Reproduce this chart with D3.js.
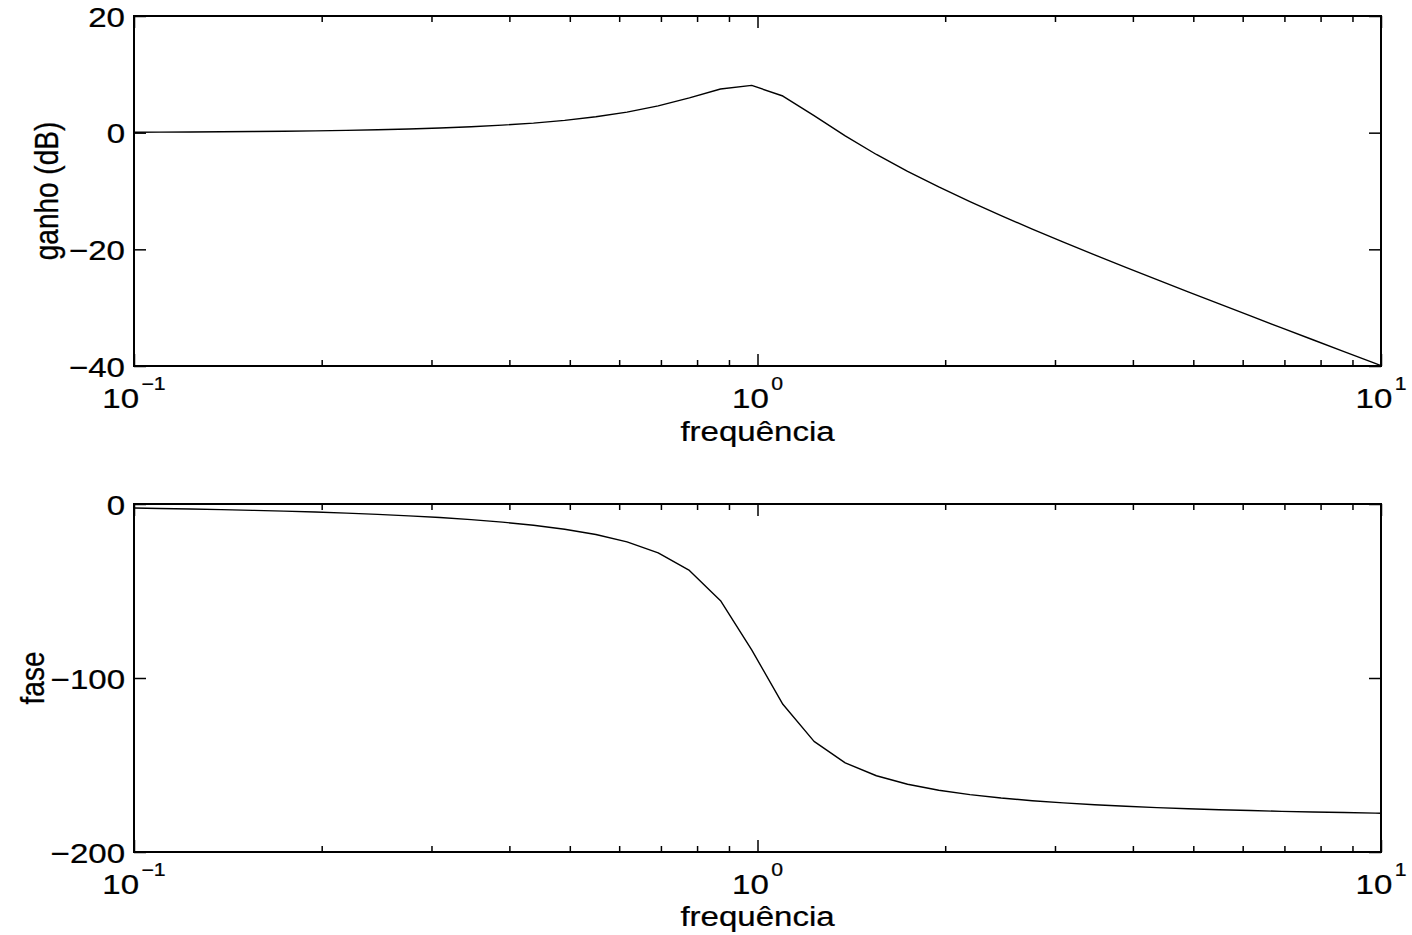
<!DOCTYPE html>
<html>
<head>
<meta charset="utf-8">
<script src="https://cdn.jsdelivr.net/npm/d3@7"></script>
<style>
  body { margin: 0; background: #fff; }
  svg { display: block; }
</style>
</head>
<body>
<svg id="fig" width="1412" height="935"></svg>
<script>
// Frequency samples (rad/s) of the response
const frequencies = [0.1, 0.1098, 0.1232, 0.1382, 0.1551, 0.174, 0.1953, 0.2191, 0.2459, 0.2759,
  0.3095, 0.3473, 0.3897, 0.4372, 0.4906, 0.5505, 0.6176, 0.693, 0.7776, 0.8724,
  0.9788, 1.0982, 1.2322, 1.3826, 1.5513, 1.7406, 1.953, 2.1913, 2.4587, 2.7587,
  3.0953, 3.473, 3.8968, 4.3722, 4.9057, 5.5043, 6.1759, 6.9295, 7.775, 8.7237,
  9.7882, 10];

// Gain in dB at each frequency
const gainDb = [0.08, 0.1, 0.12, 0.15, 0.19, 0.25, 0.31, 0.39, 0.49, 0.63,
  0.79, 1.01, 1.29, 1.64, 2.11, 2.72, 3.53, 4.6, 5.97, 7.48,
  8.1, 6.28, 2.91, -0.56, -3.74, -6.63, -9.31, -11.83, -14.22, -16.52,
  -18.76, -20.94, -23.09, -25.2, -27.29, -29.36, -31.42, -33.46, -35.5, -37.52,
  -39.54, -39.92];

// Phase in degrees at each frequency
const phaseDeg = [-2.31, -2.55, -2.86, -3.23, -3.64, -4.11, -4.64, -5.26, -5.98, -6.81,
  -7.8, -8.98, -10.41, -12.2, -14.49, -17.53, -21.77, -28.07, -38.2, -55.6,
  -83.88, -115.12, -136.44, -148.76, -156.19, -161.07, -164.49, -167.02, -168.97, -170.52,
  -171.79, -172.84, -173.73, -174.49, -175.14, -175.7, -176.19, -176.63, -177.01, -177.34,
  -177.64, -177.69];

// Axis ticks and labels
const gainTicks = [20, 0, -20, -40];
const gainTickLabels = ["20", "0", "\u221220", "\u221240"];
const phaseTicks = [0, -100, -200];
const phaseTickLabels = ["0", "\u2212100", "\u2212200"];
const decadeTicks = [0.1, 1, 10];
const decadeExponents = ["\u22121", "0", "1"];
const xLabelText = "frequência";
const gainLabelText = "ganho (dB)";
const phaseLabelText = "fase";

// ---- drawing ----
const FONT = "'Liberation Sans', Arial, Helvetica, sans-serif";
const FS = 28;          // text size
const SUP = 18;         // exponent size
const SX = 1.18;        // horizontal text stretch
const MAJOR = 12, MINOR = 6;

const svg = d3.select("#fig");
const left = 134, right = 1381;

const x = d3.scaleLog().domain([0.1, 10]).range([left, right]);
const minorTicks = x.ticks().filter(v => !decadeTicks.some(d => Math.abs(d - v) < 1e-9));

const panels = [
  { top: 16, bottom: 366, domain: [-40, 20], values: gainDb,
    ticks: gainTicks, tickLabels: gainTickLabels,
    ylabel: gainLabelText, ylabelX: 58, xlabelY: 441 },
  { top: 504, bottom: 852, domain: [-200, 0], values: phaseDeg,
    ticks: phaseTicks, tickLabels: phaseTickLabels,
    ylabel: phaseLabelText, ylabelX: 44, xlabelY: 926 }
];

function stretchedText(g, tx, ty, anchor, extra) {
  return g.append("text")
    .attr("transform", `translate(${tx},${ty}) scale(${SX},1)` + (extra || ""))
    .attr("text-anchor", anchor)
    .attr("font-family", FONT)
    .attr("font-size", FS)
    .attr("fill", "#000")
    .attr("stroke", "#000")
    .attr("stroke-width", 0.25);
}

panels.forEach(p => {
  const y = d3.scaleLinear().domain(p.domain).range([p.bottom, p.top]);
  const g = svg.append("g");

  // curve
  const line = d3.line()
    .x((d, i) => x(frequencies[i]))
    .y(d => y(d));
  g.append("path")
    .datum(p.values)
    .attr("d", line)
    .attr("fill", "none")
    .attr("stroke", "#000")
    .attr("stroke-width", 1.4)
    .attr("stroke-linejoin", "round");

  // inward ticks on all four sides
  const tickStyle = sel => {
    sel.select(".domain").remove();
    sel.selectAll("text").remove();
    sel.selectAll("line").attr("stroke", "#000").attr("stroke-width", 1.5);
  };
  g.append("g").attr("transform", `translate(0,${p.bottom})`)
    .call(d3.axisBottom(x).tickValues(decadeTicks).tickSize(-MAJOR)).call(tickStyle);
  g.append("g").attr("transform", `translate(0,${p.bottom})`)
    .call(d3.axisBottom(x).tickValues(minorTicks).tickSize(-MINOR)).call(tickStyle);
  g.append("g").attr("transform", `translate(0,${p.top})`)
    .call(d3.axisTop(x).tickValues(decadeTicks).tickSize(-MAJOR)).call(tickStyle);
  g.append("g").attr("transform", `translate(0,${p.top})`)
    .call(d3.axisTop(x).tickValues(minorTicks).tickSize(-MINOR)).call(tickStyle);
  g.append("g").attr("transform", `translate(${left},0)`)
    .call(d3.axisLeft(y).tickValues(p.ticks).tickSize(-MAJOR)).call(tickStyle);
  g.append("g").attr("transform", `translate(${right},0)`)
    .call(d3.axisRight(y).tickValues(p.ticks).tickSize(-MAJOR)).call(tickStyle);

  // frame
  g.append("rect")
    .attr("x", left).attr("y", p.top)
    .attr("width", right - left).attr("height", p.bottom - p.top)
    .attr("fill", "none").attr("stroke", "#000").attr("stroke-width", 2);

  // y tick labels
  p.ticks.forEach((t, i) => {
    stretchedText(g, left - 9, y(t) + 10.5, "end").text(p.tickLabels[i]);
  });

  // x tick labels: 10 with exponent
  decadeTicks.forEach((t, i) => {
    const txt = stretchedText(g, x(t), p.bottom + 42, "middle");
    txt.append("tspan").text("10");
    txt.append("tspan").attr("font-size", SUP).attr("dx", 2).attr("dy", -18).text(decadeExponents[i]);
  });

  // axis labels
  stretchedText(g, (left + right) / 2, p.xlabelY, "middle").text(xLabelText);
  stretchedText(g, p.ylabelX, (p.top + p.bottom) / 2, "middle", " rotate(-90)").text(p.ylabel);
});
</script>
</body>
</html>
